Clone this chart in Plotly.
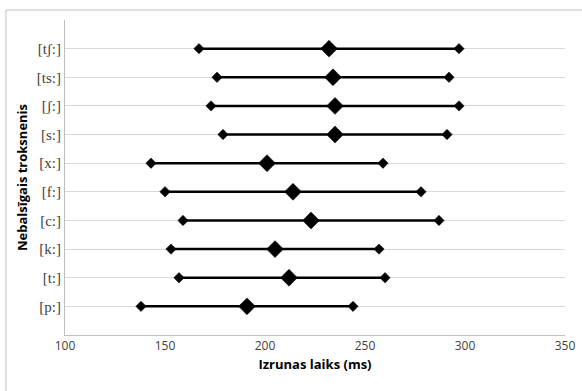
import plotly.graph_objects as go

categories = ["[p:]", "[t:]", "[k:]", "[c:]", "[f:]", "[x:]", "[s:]", "[ʃ:]", "[ts:]", "[tʃ:]"]
min_vals = [138, 157, 153, 159, 150, 143, 179, 173, 176, 167]
mean_vals = [191, 212, 205, 223, 214, 201, 235, 235, 234, 232]
max_vals = [244, 260, 257, 287, 278, 259, 291, 297, 292, 297]
x_ticks = [100, 150, 200, 250, 300, 350]

fig = go.Figure()
for i, cat in enumerate(categories):
    y = i + 1
    fig.add_trace(go.Scatter(
        x=[min_vals[i], mean_vals[i], max_vals[i]], y=[y, y, y],
        mode="lines+markers",
        line=dict(color="black", width=2.5),
        marker=dict(symbol="diamond", color="black", opacity=1,
                    size=[8, 13, 8], line=dict(color="black", width=0.5)),
        showlegend=False, hoverinfo="x", cliponaxis=False,
    ))

fig.update_layout(
    width=582, height=391,
    margin=dict(l=65, r=17, t=20, b=56, autoexpand=False),
    plot_bgcolor="white", paper_bgcolor="white",
    xaxis=dict(
        range=[100, 350], tickvals=x_ticks, showgrid=False,
        showline=True, linecolor="#bfbfbf", linewidth=1,
        ticks="", zeroline=False, automargin=False,
        tickfont=dict(family="Open Sans, Liberation Sans", size=12, color="#404040"),
        title=dict(text="<b>Izrunas laiks (ms)</b>", standoff=6,
                   font=dict(family="Open Sans, Liberation Sans", size=13, color="black")),
    ),
    yaxis=dict(
        range=[0, 11], tickvals=list(range(1, 12)), ticktext=categories + [""],
        showgrid=True, gridcolor="#d9d9d9", gridwidth=1,
        showline=True, linecolor="#bfbfbf", linewidth=1,
        ticks="", zeroline=False, automargin=False,
        tickfont=dict(family="Liberation Serif, DejaVu Serif", size=15, color="#404040"),
        title=dict(text="<b>Nebalsīgais troksnenis</b>", standoff=6,
                   font=dict(family="Open Sans, Liberation Sans", size=13, color="black")),
    ),
    shapes=[
        dict(type="line", xref="paper", yref="paper",
             x0=-0.118, y0=1.0317, x1=1.1, y1=1.0317,
             line=dict(color="#bfbfbf", width=1), layer="below"),
        dict(type="line", xref="paper", yref="paper",
             x0=-0.118, y0=-0.3, x1=-0.118, y1=1.0317,
             line=dict(color="#bfbfbf", width=1), layer="below"),
    ],
)

fig.write_html("out.html", config={"displayModeBar": False},
               post_script="document.body.style.margin='0';document.body.style.overflow='hidden';")
